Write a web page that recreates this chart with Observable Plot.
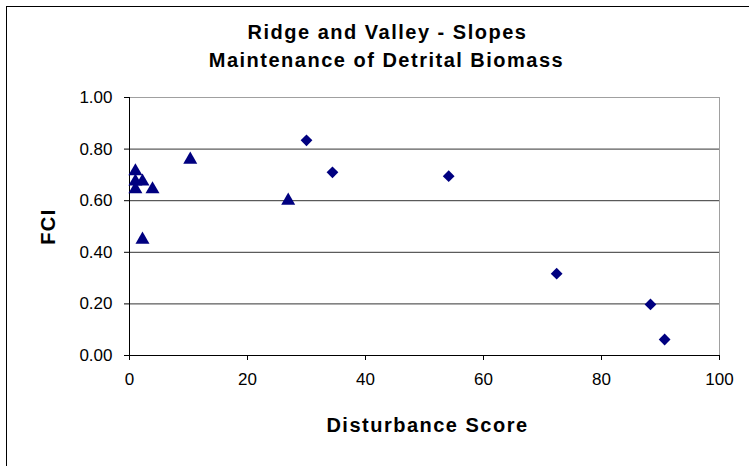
<!DOCTYPE html>
<html>
<head>
<meta charset="utf-8">
<script src="https://cdn.jsdelivr.net/npm/d3@7"></script>
<script src="https://cdn.jsdelivr.net/npm/@observablehq/plot@0.6"></script>
<style>
  html, body { margin: 0; padding: 0; background: #fff; }
  #wrap { position: relative; width: 749px; height: 466px; overflow: hidden; font-family: "Liberation Sans", Arial, sans-serif; }
  #border { position: absolute; left: 6px; top: 6px; width: 900px; height: 600px; border: 1px solid #000; box-sizing: border-box; pointer-events: none; }
  #chart { position: absolute; left: 0; top: 0; }
</style>
</head>
<body>
<div id="wrap"><div id="chart"></div><div id="border"></div></div>
<script>
// Series 1 (triangles)
const triX = [1.0, 1.0, 2.2, 1.0, 3.9, 2.2, 10.3, 26.9];
const triY = [0.72, 0.68, 0.68, 0.65, 0.65, 0.455, 0.765, 0.606];
// Series 2 (diamonds)
const diaX = [30.0, 34.4, 54.1, 72.4, 88.3, 90.7];
const diaY = [0.834, 0.71, 0.695, 0.317, 0.198, 0.062];
// Axis ticks
const xTicks = [0, 20, 40, 60, 80, 100];
const yTicks = [0, 0.2, 0.4, 0.6, 0.8, 1.0];
const gridY = [0.2, 0.4, 0.6, 0.8];
const titleLines = ["Ridge and Valley - Slopes", "Maintenance of Detrital Biomass"];
const xLabel = "Disturbance Score";
const yLabel = "FCI";

const tri = triX.map((x, i) => ({x, y: triY[i]}));
const dia = diaX.map((x, i) => ({x, y: diaY[i]}));
const navy = "#000080";
const bold = {fontSize: 20, fontWeight: "bold", lineAnchor: "middle", textAnchor: "middle"};

const chart = Plot.plot({
  width: 749,
  height: 466,
  marginLeft: 129,
  marginRight: 30,
  marginTop: 97,
  marginBottom: 111,
  style: {fontFamily: "'Liberation Sans', Arial, sans-serif", fontSize: "17px", color: "#000", background: "transparent"},
  x: {domain: [0, 100], axis: null},
  y: {domain: [0, 1], axis: null},
  marks: [
    Plot.frame({stroke: "#a0a0a0"}),
    Plot.ruleY(gridY, {stroke: "#333"}),
    Plot.ruleX([0], {stroke: "#000"}),
    Plot.ruleY([0], {stroke: "#000"}),
    Plot.axisY(yTicks, {tickSize: 5, tickPadding: 12, tickFormat: d3.format(".2f"), fontSize: 17, label: null, stroke: "#000"}),
    Plot.axisX(xTicks, {tickSize: 5, tickPadding: 12, fontSize: 17, label: null, stroke: "#000"}),
    Plot.dot(tri, {x: "x", y: "y", symbol: "triangle", r: 5.2, fill: navy, stroke: "none", dy: 1.5}),
    Plot.dot(dia, {x: "x", y: "y", symbol: "diamond2", r: 5.3, fill: navy, stroke: "none"}),
    Plot.text([titleLines[0]], {frameAnchor: "top", dx: -37, dy: -65, ...bold}),
    Plot.text([titleLines[1]], {frameAnchor: "top", dx: -38, dy: -37, ...bold}),
    Plot.text([xLabel], {frameAnchor: "bottom", dx: 3, dy: 70, ...bold}),
    Plot.text([yLabel], {frameAnchor: "left", dx: -81, rotate: -90, ...bold})
  ]
});
// widen letter spacing of the bold titles, as in the reference
const spaced = new Set([...titleLines, xLabel, yLabel]);
d3.select(chart).selectAll("text").filter(function() { return spaced.has(this.textContent); })
  .style("letter-spacing", "1.5px");
document.getElementById("chart").appendChild(chart);
</script>
</body>
</html>
